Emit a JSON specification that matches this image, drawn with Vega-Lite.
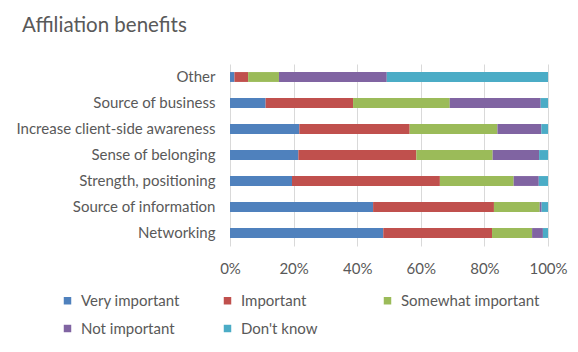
{
  "$schema": "https://vega.github.io/schema/vega-lite/v6.json",
  "width": 318,
  "height": 182,
  "autosize": {"type": "none"},
  "padding": {"left": 230, "top": 64, "right": 30, "bottom": 106},
  "background": "white",
  "title": {
    "text": "Affiliation benefits",
    "anchor": "start",
    "frame": "group",
    "dx": -208,
    "offset": 28,
    "font": "Lato",
    "fontSize": 20.5,
    "fontWeight": "normal",
    "color": "#595959"
  },
  "data": {
    "values": [
      {"benefit": "Other", "level": "Very important", "rank": 1, "value": 1.4},
      {"benefit": "Other", "level": "Important", "rank": 2, "value": 4.3},
      {"benefit": "Other", "level": "Somewhat important", "rank": 3, "value": 9.7},
      {"benefit": "Other", "level": "Not important", "rank": 4, "value": 33.9},
      {"benefit": "Other", "level": "Don't know", "rank": 5, "value": 50.7},
      {"benefit": "Source of business", "level": "Very important", "rank": 1, "value": 11.2},
      {"benefit": "Source of business", "level": "Important", "rank": 2, "value": 27.5},
      {"benefit": "Source of business", "level": "Somewhat important", "rank": 3, "value": 30.4},
      {"benefit": "Source of business", "level": "Not important", "rank": 4, "value": 28.6},
      {"benefit": "Source of business", "level": "Don't know", "rank": 5, "value": 2.3},
      {"benefit": "Increase client-side awareness", "level": "Very important", "rank": 1, "value": 21.8},
      {"benefit": "Increase client-side awareness", "level": "Important", "rank": 2, "value": 34.7},
      {"benefit": "Increase client-side awareness", "level": "Somewhat important", "rank": 3, "value": 27.6},
      {"benefit": "Increase client-side awareness", "level": "Not important", "rank": 4, "value": 13.8},
      {"benefit": "Increase client-side awareness", "level": "Don't know", "rank": 5, "value": 2.1},
      {"benefit": "Sense of belonging", "level": "Very important", "rank": 1, "value": 21.5},
      {"benefit": "Sense of belonging", "level": "Important", "rank": 2, "value": 37.1},
      {"benefit": "Sense of belonging", "level": "Somewhat important", "rank": 3, "value": 24.0},
      {"benefit": "Sense of belonging", "level": "Not important", "rank": 4, "value": 14.6},
      {"benefit": "Sense of belonging", "level": "Don't know", "rank": 5, "value": 2.8},
      {"benefit": "Strength, positioning", "level": "Very important", "rank": 1, "value": 19.5},
      {"benefit": "Strength, positioning", "level": "Important", "rank": 2, "value": 46.5},
      {"benefit": "Strength, positioning", "level": "Somewhat important", "rank": 3, "value": 23.2},
      {"benefit": "Strength, positioning", "level": "Not important", "rank": 4, "value": 7.9},
      {"benefit": "Strength, positioning", "level": "Don't know", "rank": 5, "value": 2.9},
      {"benefit": "Source of information", "level": "Very important", "rank": 1, "value": 45.0},
      {"benefit": "Source of information", "level": "Important", "rank": 2, "value": 38.0},
      {"benefit": "Source of information", "level": "Somewhat important", "rank": 3, "value": 14.4},
      {"benefit": "Source of information", "level": "Not important", "rank": 4, "value": 0.6},
      {"benefit": "Source of information", "level": "Don't know", "rank": 5, "value": 2.0},
      {"benefit": "Networking", "level": "Very important", "rank": 1, "value": 48.2},
      {"benefit": "Networking", "level": "Important", "rank": 2, "value": 34.2},
      {"benefit": "Networking", "level": "Somewhat important", "rank": 3, "value": 12.6},
      {"benefit": "Networking", "level": "Not important", "rank": 4, "value": 3.4},
      {"benefit": "Networking", "level": "Don't know", "rank": 5, "value": 1.6}
    ]
  },
  "mark": {"type": "bar"},
  "encoding": {
    "y": {
      "field": "benefit",
      "type": "nominal",
      "sort": ["Other", "Source of business", "Increase client-side awareness", "Sense of belonging", "Strength, positioning", "Source of information", "Networking"],
      "scale": {"paddingInner": 0.62, "paddingOuter": 0.31},
      "axis": {
        "title": null,
        "ticks": false,
        "domain": false,
        "labelPadding": 15,
        "labelLimit": 300,
        "labelFont": "Lato",
        "labelFontSize": 15,
        "labelColor": "#595959"
      }
    },
    "x": {
      "field": "value",
      "type": "quantitative",
      "stack": "normalize",
      "scale": {"domain": [0, 1]},
      "axis": {
        "title": null,
        "values": [0, 0.2, 0.4, 0.6, 0.8, 1],
        "format": ".0%",
        "ticks": false,
        "domain": false,
        "grid": true,
        "gridColor": "#d9d9d9",
        "gridWidth": 1,
        "labelFlush": false,
        "labelPadding": 15,
        "labelFont": "Lato",
        "labelFontSize": 15,
        "labelColor": "#595959"
      }
    },
    "color": {
      "field": "level",
      "type": "nominal",
      "scale": {
        "domain": ["Very important", "Important", "Somewhat important", "Not important", "Don't know"],
        "range": ["#4f81bd", "#c0504d", "#9bbb59", "#8064a2", "#4bacc6"]
      },
      "legend": {
        "title": null,
        "orient": "none",
        "legendX": -170,
        "legendY": 229,
        "direction": "horizontal",
        "columns": 3,
        "gridAlign": "all",
        "columnPadding": 0,
        "rowPadding": 12,
        "symbolType": "square",
        "symbolSize": 56,
        "symbolStrokeWidth": 0,
        "labelOffset": 6,
        "labelFont": "Lato",
        "labelFontSize": 15,
        "labelColor": "#595959"
      }
    },
    "order": {"field": "rank", "type": "quantitative"}
  },
  "config": {
    "view": {"stroke": null}
  }
}
